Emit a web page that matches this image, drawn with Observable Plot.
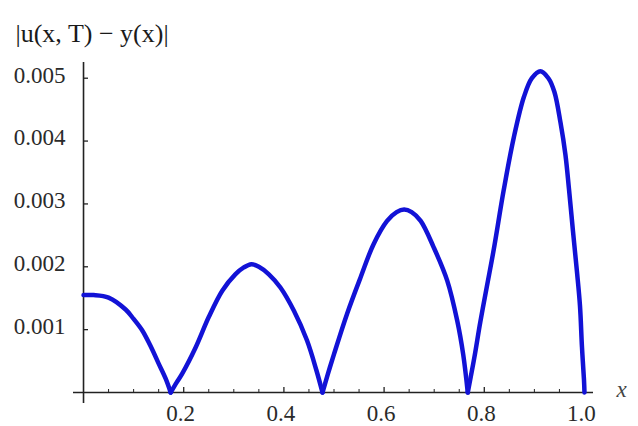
<!DOCTYPE html>
<html>
<head>
<meta charset="utf-8">
<script src="https://cdn.jsdelivr.net/npm/d3@7"></script>
<script src="https://cdn.jsdelivr.net/npm/@observablehq/plot@0.6"></script>
<style>
  html, body { margin: 0; padding: 0; background: #fff; }
  #chart svg { display: block; }
</style>
</head>
<body>
<div id="chart"></div>
<script>
// Curve samples, one array pair per lobe
const lobe1X = [0.000, 0.020, 0.050, 0.084, 0.100, 0.117, 0.135, 0.150, 0.164, 0.174];
const lobe1E = [0.00155, 0.00155, 0.00151, 0.00132, 0.00117, 0.00099, 0.00072, 0.00046, 0.00022, 0.00000];
const lobe2X = [0.174, 0.186, 0.197, 0.224, 0.250, 0.277, 0.303, 0.320, 0.335, 0.350, 0.370, 0.393, 0.420, 0.446, 0.465, 0.477];
const lobe2E = [0.00000, 0.00016, 0.00030, 0.00072, 0.00120, 0.00162, 0.00188, 0.00199, 0.00204, 0.00200, 0.00188, 0.00167, 0.00130, 0.00083, 0.00035, 0.00000];
const lobe3X = [0.477, 0.488, 0.500, 0.526, 0.553, 0.579, 0.606, 0.625, 0.640, 0.655, 0.673, 0.699, 0.726, 0.746, 0.758, 0.767];
const lobe3E = [0.00000, 0.00030, 0.00061, 0.00125, 0.00183, 0.00236, 0.00273, 0.00287, 0.00291, 0.00287, 0.00273, 0.00231, 0.00178, 0.00114, 0.00060, 0.00000];
const lobe4X = [0.767, 0.780, 0.792, 0.805, 0.819, 0.839, 0.859, 0.879, 0.895, 0.912, 0.928, 0.940, 0.952, 0.962, 0.969, 0.977, 0.985, 0.991, 0.995, 0.999, 1.000];
const lobe4E = [0.00000, 0.00055, 0.00112, 0.00168, 0.00228, 0.00323, 0.00406, 0.00470, 0.00500, 0.00511, 0.00500, 0.00478, 0.00430, 0.00378, 0.00324, 0.00257, 0.00192, 0.00138, 0.00072, 0.00020, 0.00000];

const xTickLabels = ["0.2", "0.4", "0.6", "0.8", "1.0"];
const xTickValues = [0.2, 0.4, 0.6, 0.8, 1.0];
const xMinorTicks = [0.05, 0.1, 0.15, 0.25, 0.3, 0.35, 0.45, 0.5, 0.55, 0.65, 0.7, 0.75, 0.85, 0.9, 0.95];
const yTickLabels = ["0.001", "0.002", "0.003", "0.004", "0.005"];
const yTickValues = [0.001, 0.002, 0.003, 0.004, 0.005];
const yLabel = "|u(x, T) \u2212 y(x)|";
const xLabel = "x";

const lobes = [[lobe1X, lobe1E], [lobe2X, lobe2E], [lobe3X, lobe3E], [lobe4X, lobe4E]];
const data = lobes.flatMap(([lx, le], k) => lx.map((x, i) => ({x, e: le[i], lobe: k})));

const xDomain = [-0.02, 1.018];
const yDomain = [-0.000175, 0.00525];
const W = 638, H = 426;
const mL = 73, mR = 45, mT = 62, mB = 23;
const pxX = (xDomain[1] - xDomain[0]) / (W - mL - mR);
const pxY = (yDomain[1] - yDomain[0]) / (H - mT - mB);

const serif = "Liberation Serif, Times New Roman, serif";
const axisColor = "#222";

const chart = Plot.plot({
  width: W,
  height: H,
  marginLeft: mL,
  marginRight: mR,
  marginTop: mT,
  marginBottom: mB,
  x: {domain: xDomain, axis: null},
  y: {domain: yDomain, axis: null},
  style: {fontFamily: serif, background: "#fff", overflow: "visible"},
  marks: [
    // axes lines
    Plot.ruleY([0], {x1: xDomain[0], x2: xDomain[1], stroke: axisColor, strokeWidth: 1.6}),
    Plot.ruleX([0], {y1: yDomain[0], y2: yDomain[1], stroke: axisColor, strokeWidth: 1.6}),
    // x ticks (pointing up)
    Plot.ruleX(xTickValues, {y1: 0, y2: 5 * pxY, stroke: axisColor, strokeWidth: 1.3}),
    Plot.ruleX(xMinorTicks, {y1: 0, y2: 3 * pxY, stroke: axisColor, strokeWidth: 1}),
    // y ticks (pointing right)
    Plot.ruleY(yTickValues, {x1: 0, x2: 5 * pxX, stroke: axisColor, strokeWidth: 1.3}),
    // curve
    Plot.line(data, {x: "x", y: "e", z: "lobe", curve: "catmull-rom", stroke: "#1212d6", strokeWidth: 4.5,
      strokeLinejoin: "round", strokeLinecap: "round"}),
    // tick labels
    Plot.text(xTickValues, {x: d => d, y: 0, text: (d, i) => xTickLabels[i], dy: 21, dx: -3,
      textAnchor: "middle", lineAnchor: "middle", fontSize: 23, fill: "#2a2a2a"}),
    Plot.text(yTickValues, {x: 0, y: d => d, text: (d, i) => yTickLabels[i], dx: -18, dy: -3,
      textAnchor: "end", lineAnchor: "middle", fontSize: 23, fill: "#2a2a2a"}),
    // axis labels
    Plot.text([xLabel], {x: xDomain[1], y: 0, text: d => d, dx: 28, dy: -3,
      textAnchor: "middle", lineAnchor: "middle", fontSize: 23, fontStyle: "italic", fill: "#444"}),
    Plot.text([yLabel], {frameAnchor: "top-left", text: d => d, dx: -58, dy: -29,
      textAnchor: "start", lineAnchor: "middle", fontSize: 26, fill: "#1a1a1a"})
  ]
});
document.getElementById("chart").appendChild(chart);
</script>
</body>
</html>
